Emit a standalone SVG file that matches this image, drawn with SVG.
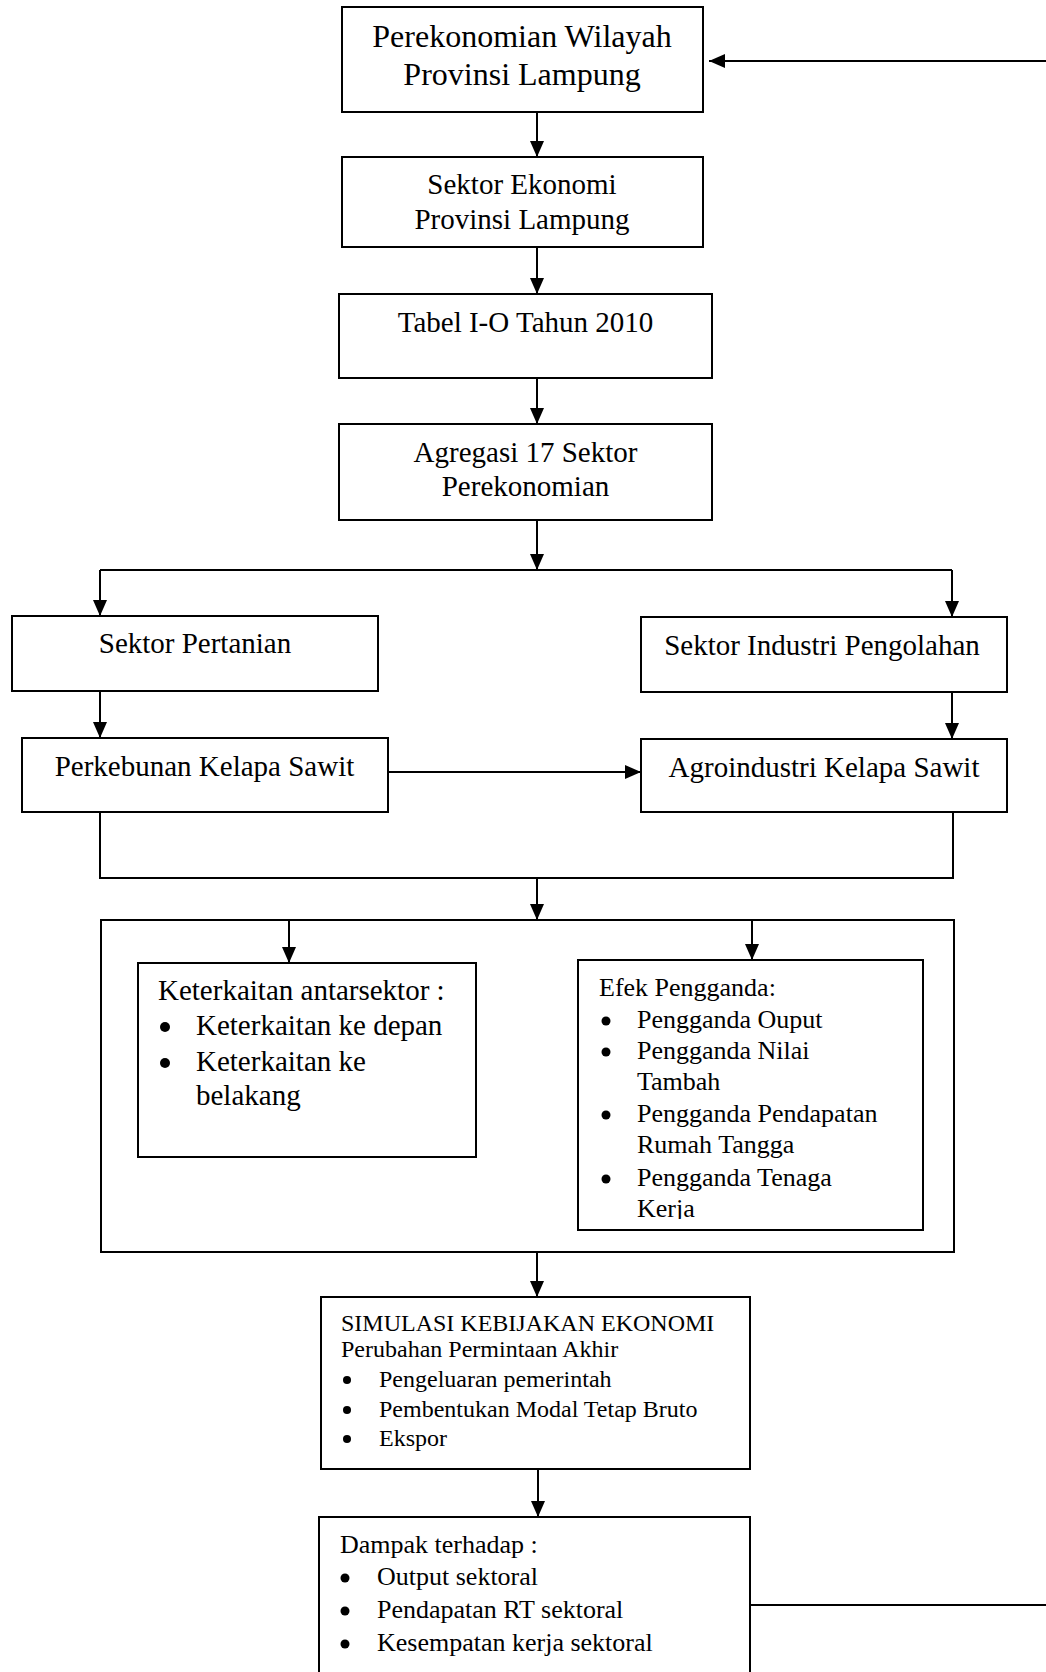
<svg xmlns="http://www.w3.org/2000/svg" width="1046" height="1672" viewBox="0 0 1046 1672">
<style>
.box{fill:#fff;stroke:#000;stroke-width:2}
.frame{fill:none;stroke:#000;stroke-width:2}
.con{fill:none;stroke:#000;stroke-width:2}
text{font-family:"Liberation Serif","Times New Roman",serif;fill:#000}
.c{text-anchor:middle}
.f32{font-size:32px}
.f29{font-size:29px}
.f26{font-size:26px}
.f24{font-size:24px}
.dot{fill:#000}
</style>
<defs>
<marker id="ah" markerUnits="userSpaceOnUse" markerWidth="16" markerHeight="14" refX="16" refY="7" orient="auto">
<path d="M0,0 L16,7 L0,14 z" fill="#000"/>
</marker>
<clipPath id="clipEfek"><rect x="578" y="961" width="344" height="258"/></clipPath>
</defs>

<g id="connectors">
<path class="con" d="M750,1605 H1060 V61 H709" marker-end="url(#ah)"/>
<path class="con" d="M537,112 V157" marker-end="url(#ah)"/>
<path class="con" d="M537,247 V294" marker-end="url(#ah)"/>
<path class="con" d="M537,378 V424" marker-end="url(#ah)"/>
<path class="con" d="M537,520 V570" marker-end="url(#ah)"/>
<path class="con" d="M100,570 H952"/>
<path class="con" d="M100,570 V616" marker-end="url(#ah)"/>
<path class="con" d="M952,570 V617" marker-end="url(#ah)"/>
<path class="con" d="M100,691 V738" marker-end="url(#ah)"/>
<path class="con" d="M952,692 V739" marker-end="url(#ah)"/>
<path class="con" d="M388,772 H641" marker-end="url(#ah)"/>
<path class="con" d="M100,812 V878 H953 V812"/>
<path class="con" d="M537,878 V920" marker-end="url(#ah)"/>
<path class="con" d="M289,920 V963" marker-end="url(#ah)"/>
<path class="con" d="M752,920 V960" marker-end="url(#ah)"/>
<path class="con" d="M537,1252 V1297" marker-end="url(#ah)"/>
<path class="con" d="M538,1469 V1517" marker-end="url(#ah)"/>
</g>

<g id="node-perekonomian-wilayah">
<rect class="box" x="342" y="7" width="361" height="105"/>
<text class="c f32" x="522" y="47">Perekonomian Wilayah</text>
<text class="c f32" x="522" y="85">Provinsi Lampung</text>
</g>

<g id="node-sektor-ekonomi">
<rect class="box" x="342" y="157" width="361" height="90"/>
<text class="c f29" x="522" y="194">Sektor Ekonomi</text>
<text class="c f29" x="522" y="229">Provinsi Lampung</text>
</g>

<g id="node-tabel-io">
<rect class="box" x="339" y="294" width="373" height="84"/>
<text class="c f29" x="525.5" y="332">Tabel I-O Tahun 2010</text>
</g>

<g id="node-agregasi">
<rect class="box" x="339" y="424" width="373" height="96"/>
<text class="c f29" x="525.5" y="462">Agregasi 17 Sektor</text>
<text class="c f29" x="525.5" y="496">Perekonomian</text>
</g>

<g id="node-sektor-pertanian">
<rect class="box" x="12" y="616" width="366" height="75"/>
<text class="c f29" x="195" y="653">Sektor Pertanian</text>
</g>

<g id="node-sektor-industri">
<rect class="box" x="641" y="617" width="366" height="75"/>
<text class="c f29" x="822" y="655">Sektor Industri Pengolahan</text>
</g>

<g id="node-perkebunan">
<rect class="box" x="22" y="738" width="366" height="74"/>
<text class="c f29" x="204.5" y="776">Perkebunan Kelapa Sawit</text>
</g>

<g id="node-agroindustri">
<rect class="box" x="641" y="739" width="366" height="73"/>
<text class="c f29" x="824" y="777">Agroindustri Kelapa Sawit</text>
</g>

<g id="node-analisis">
<rect class="frame" x="101" y="920" width="853" height="332"/>
</g>

<g id="node-keterkaitan">
<rect class="box" x="138" y="963" width="338" height="194"/>
<text class="f29" x="158" y="1000">Keterkaitan antarsektor :</text>
<circle class="dot" cx="165" cy="1027" r="5"/>
<text class="f29" x="196" y="1035">Keterkaitan ke depan</text>
<circle class="dot" cx="165" cy="1063" r="5"/>
<text class="f29" x="196" y="1071">Keterkaitan ke</text>
<text class="f29" x="196" y="1105">belakang</text>
</g>

<g id="node-efek-pengganda">
<rect class="box" x="578" y="960" width="345" height="270"/>
<g clip-path="url(#clipEfek)">
<text class="f26" x="599" y="996">Efek Pengganda:</text>
<circle class="dot" cx="606" cy="1021" r="4.5"/>
<text class="f26" x="637" y="1028">Pengganda Ouput</text>
<circle class="dot" cx="606" cy="1052" r="4.5"/>
<text class="f26" x="637" y="1059">Pengganda Nilai</text>
<text class="f26" x="637" y="1090">Tambah</text>
<circle class="dot" cx="606" cy="1115" r="4.5"/>
<text class="f26" x="637" y="1122">Pengganda Pendapatan</text>
<text class="f26" x="637" y="1153">Rumah Tangga</text>
<circle class="dot" cx="606" cy="1179" r="4.5"/>
<text class="f26" x="637" y="1186">Pengganda Tenaga</text>
<text class="f26" x="637" y="1217">Kerja</text>
</g>
</g>

<g id="node-simulasi">
<rect class="box" x="321" y="1297" width="429" height="172"/>
<text class="f24" x="341" y="1331">SIMULASI KEBIJAKAN EKONOMI</text>
<text class="f24" x="341" y="1357">Perubahan Permintaan Akhir</text>
<circle class="dot" cx="347" cy="1380" r="4"/>
<text class="f24" x="379" y="1387">Pengeluaran pemerintah</text>
<circle class="dot" cx="347" cy="1410" r="4"/>
<text class="f24" x="379" y="1417">Pembentukan Modal Tetap Bruto</text>
<circle class="dot" cx="347" cy="1439" r="4"/>
<text class="f24" x="379" y="1446">Ekspor</text>
</g>

<g id="node-dampak">
<rect class="box" x="319" y="1517" width="431" height="170"/>
<text class="f26" x="340" y="1553">Dampak terhadap :</text>
<circle class="dot" cx="345" cy="1578" r="4.5"/>
<text class="f26" x="377" y="1585">Output sektoral</text>
<circle class="dot" cx="345" cy="1611" r="4.5"/>
<text class="f26" x="377" y="1618">Pendapatan RT sektoral</text>
<circle class="dot" cx="345" cy="1644" r="4.5"/>
<text class="f26" x="377" y="1651">Kesempatan kerja sektoral</text>
</g>
</svg>
